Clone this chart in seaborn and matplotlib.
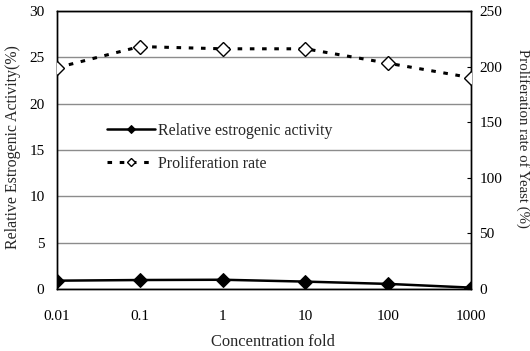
import matplotlib
matplotlib.use("Agg")
import matplotlib.pyplot as plt
import seaborn as sns
import pandas as pd

concentration = [0.01, 0.1, 1, 10, 100, 1000]
tick_labels = ["0.01", "0.1", "1", "10", "100", "1000"]
estrogenic_activity = [0.9, 0.97, 1.0, 0.8, 0.55, 0.15]
proliferation_rate = [199, 218, 216, 216, 203, 190]

sns.set_theme(style="white")
plt.rcParams['font.family'] = ['Liberation Serif', 'DejaVu Serif']

df = pd.DataFrame({"conc": concentration, "act": estrogenic_activity, "prol": proliferation_rate})

fig = plt.figure(figsize=(5.3, 3.51), dpi=100)
ax = fig.add_axes([0.1075, 0.1766, 0.889 - 0.1075, 0.9687 - 0.1766])
ax2 = ax.twinx()

sns.lineplot(data=df, x="conc", y="act", ax=ax, color="black", lw=1.8,
             marker="D", markersize=7, markeredgecolor="black",
             label="Relative estrogenic activity", legend=False, zorder=5)
sns.lineplot(data=df, x="conc", y="prol", ax=ax2, color="black", lw=2.2,
             linestyle=(0, (1.5, 2.5)), marker="D", markersize=7,
             markerfacecolor="white", markeredgecolor="black", markeredgewidth=1,
             label="Proliferation rate", legend=False, zorder=5)

ax.set_xscale("log")
ax.set_xlim(0.01, 1000)
ax.set_xticks(concentration)
ax.set_xticklabels(tick_labels)
ax.minorticks_off()
ax.set_ylim(0, 30)
ax.set_yticks([0, 5, 10, 15, 20, 25, 30])
ax2.set_ylim(0, 250)
ax2.set_yticks([0, 50, 100, 150, 200, 250])

for a in (ax, ax2):
    for s in a.spines.values():
        s.set_color("black")
        s.set_linewidth(1.0)
    a.tick_params(labelsize=11, colors="black", width=0.8)
ax.tick_params(axis="x", length=0, pad=15)
ax.tick_params(axis="y", left=False, length=0, pad=9)
ax2.tick_params(axis="y", right=True, direction="in", length=3, pad=6)

ax.yaxis.grid(True, color="#8c8c8c", lw=1)
ax.set_axisbelow(True)

ax.set_xlabel("Concentration fold", fontsize=11.9)
ax.xaxis.set_label_coords(0.522, -0.162)
ax.set_ylabel("Relative Estrogenic Activity(%)", fontsize=11.4)
ax.yaxis.set_label_coords(-0.087, 0.511)
ax2.set_ylabel("Proliferation rate of Yeast (%)", fontsize=10.7, rotation=-90)
ax2.yaxis.set_label_coords(1.142, 0.543)

h1, l1 = ax.get_legend_handles_labels()
h2, l2 = ax2.get_legend_handles_labels()
leg = ax2.legend(h1 + h2, l1 + l2, loc="upper left", bbox_to_anchor=(107 / 530, 1 - 123 / 351),
                 bbox_transform=fig.transFigure,
                 frameon=False, fontsize=11.5, handlelength=3.0, labelspacing=1.05,
                 borderpad=0, borderaxespad=0, handletextpad=0.2, markerscale=0.6)

fig.savefig("out.png", dpi=100)
